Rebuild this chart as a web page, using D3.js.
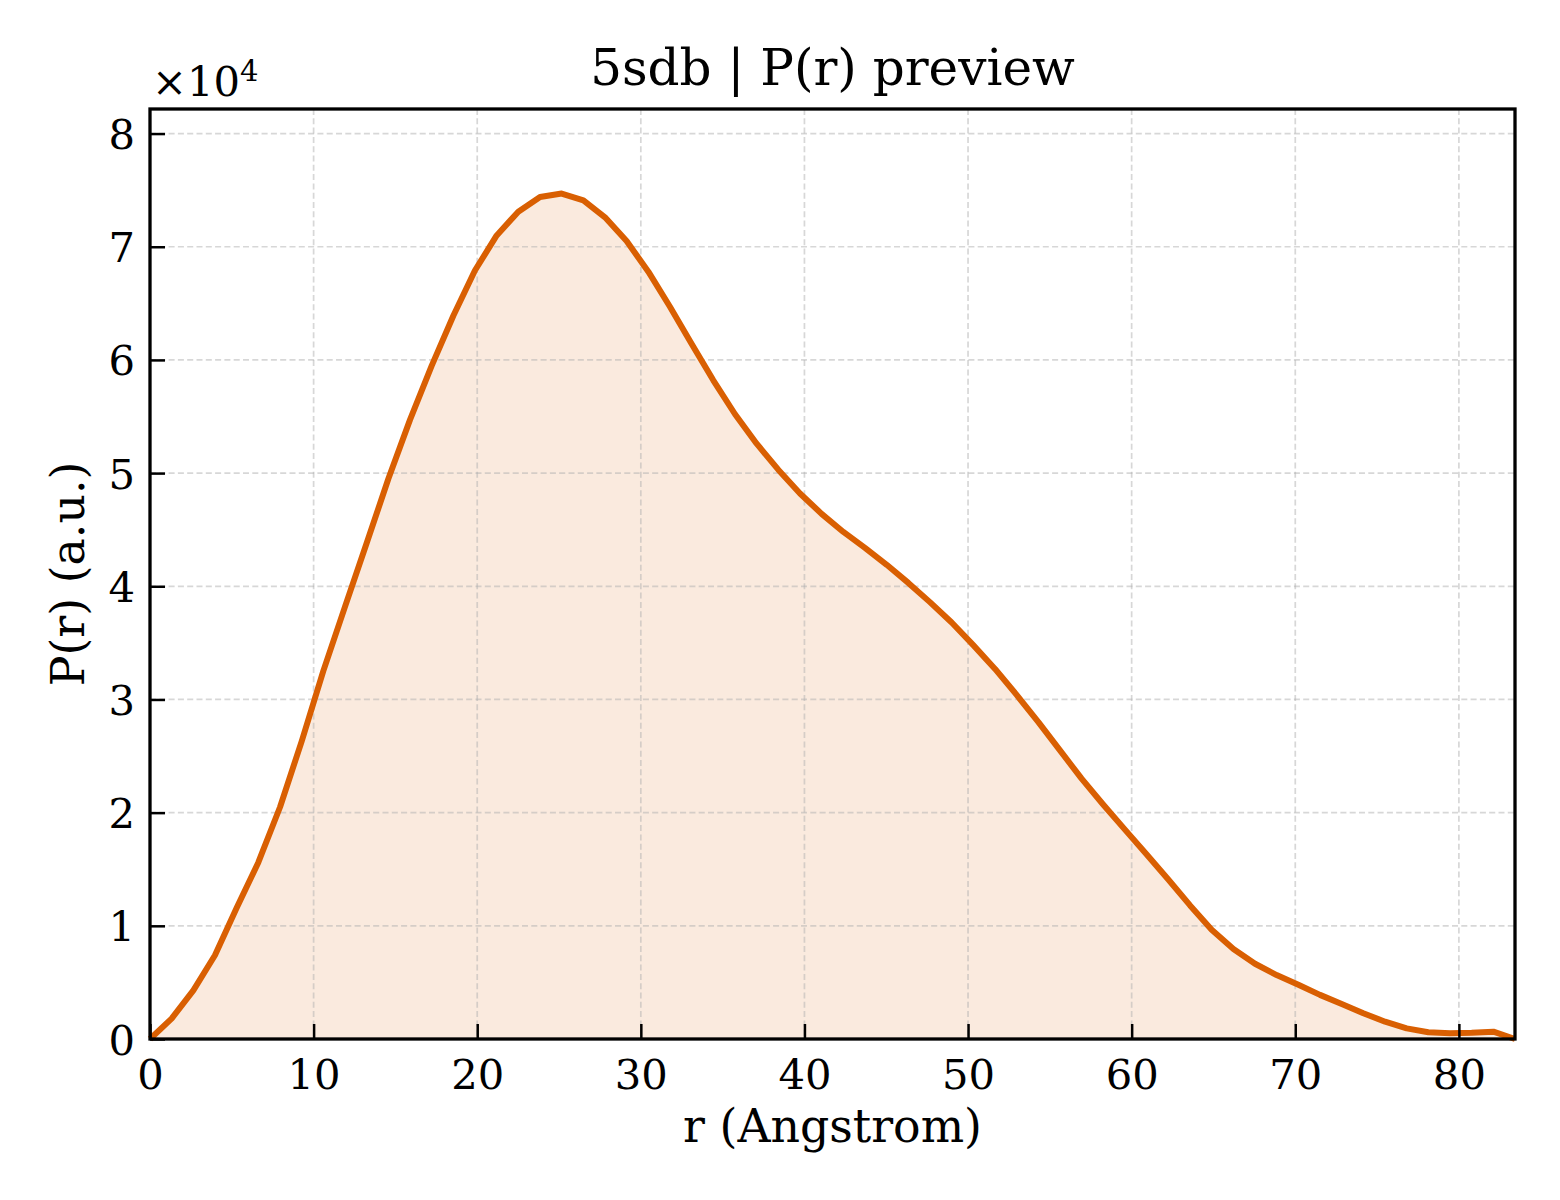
<!DOCTYPE html>
<html>
<head>
<meta charset="utf-8">
<script src="https://cdn.jsdelivr.net/npm/d3@7"></script>
<style>
  body { margin: 0; background: #ffffff; }
  text { font-family: "DejaVu Serif", serif; fill: #000; }
</style>
</head>
<body>
<div id="chart"></div>
<script>
// r grid (Angstrom) and P(r) in units of 1e4
var rValues = [0.00, 1.32, 2.65, 3.97, 5.30, 6.62, 7.95, 9.27, 10.59, 11.92,
  13.24, 14.57, 15.89, 17.22, 18.54, 19.86, 21.19, 22.51, 23.84, 25.16,
  26.49, 27.81, 29.13, 30.46, 31.78, 33.11, 34.43, 35.76, 37.08, 38.40,
  39.73, 41.05, 42.38, 43.70, 45.03, 46.35, 47.67, 49.00, 50.32, 51.65,
  52.97, 54.30, 55.62, 56.94, 58.27, 59.59, 60.92, 62.24, 63.57, 64.89,
  66.22, 67.54, 68.86, 70.19, 71.51, 72.84, 74.16, 75.49, 76.81, 78.13,
  79.46, 80.78, 82.11, 83.43];
var prValues = [0.00, 0.18, 0.43, 0.74, 1.16, 1.56, 2.05, 2.63, 3.25, 3.82,
  4.38, 4.95, 5.47, 5.95, 6.39, 6.79, 7.10, 7.31, 7.44, 7.47,
  7.41, 7.26, 7.05, 6.78, 6.47, 6.14, 5.82, 5.52, 5.26, 5.03,
  4.82, 4.64, 4.48, 4.34, 4.19, 4.03, 3.86, 3.68, 3.48, 3.27,
  3.04, 2.80, 2.55, 2.30, 2.07, 1.85, 1.63, 1.41, 1.18, 0.965,
  0.795, 0.665, 0.565, 0.48, 0.39, 0.31, 0.227, 0.153, 0.094, 0.059,
  0.05, 0.055, 0.065, 0.00];
var xTicks = [0, 10, 20, 30, 40, 50, 60, 70, 80];
var yTicks = [0, 1, 2, 3, 4, 5, 6, 7, 8];

var chartTitle = '5sdb | P(r) preview';
var xLabel = 'r (Angstrom)';
var yLabel = 'P(r) (a.u.)';

var data = rValues.map(function(r, i) { return {r: r, p: prValues[i]}; });

var width = 1560, height = 1200;
var margin = {left: 150, right: 45, top: 109, bottom: 161};
var lineColor = '#d95f02';

var svg = d3.select('#chart').append('svg')
  .attr('width', width)
  .attr('height', height);

svg.append('rect')
  .attr('width', width)
  .attr('height', height)
  .attr('fill', '#ffffff');

var x = d3.scaleLinear()
  .domain([0, d3.max(rValues)])
  .range([margin.left, width - margin.right]);

var y = d3.scaleLinear()
  .domain([0, d3.max(prValues) * 1.1])
  .range([height - margin.bottom, margin.top]);

var plotW = width - margin.left - margin.right;
var plotH = height - margin.top - margin.bottom;

// fill under curve
var area = d3.area()
  .x(function(d) { return x(d.r); })
  .y0(y(0))
  .y1(function(d) { return y(d.p); });

svg.append('path')
  .datum(data)
  .attr('d', area)
  .attr('fill', lineColor)
  .attr('fill-opacity', 0.13);

// dashed grid
var grid = svg.append('g').attr('class', 'grid');
grid.selectAll('.vgrid')
  .data(xTicks.filter(function(t) { return t > 0; }))
  .enter().append('line')
  .attr('x1', function(d) { return x(d); })
  .attr('x2', function(d) { return x(d); })
  .attr('y1', margin.top)
  .attr('y2', height - margin.bottom)
  .attr('stroke', '#b0b0b0')
  .attr('stroke-opacity', 0.5)
  .attr('stroke-width', 1.7)
  .attr('stroke-dasharray', '6,3.3');
grid.selectAll('.hgrid')
  .data(yTicks.filter(function(t) { return t > 0; }))
  .enter().append('line')
  .attr('x1', margin.left)
  .attr('x2', width - margin.right)
  .attr('y1', function(d) { return y(d); })
  .attr('y2', function(d) { return y(d); })
  .attr('stroke', '#b0b0b0')
  .attr('stroke-opacity', 0.5)
  .attr('stroke-width', 1.7)
  .attr('stroke-dasharray', '6,3.3');

// the curve
var line = d3.line()
  .x(function(d) { return x(d.r); })
  .y(function(d) { return y(d.p); });

svg.append('path')
  .datum(data)
  .attr('d', line)
  .attr('fill', 'none')
  .attr('stroke', lineColor)
  .attr('stroke-width', 6)
  .attr('stroke-linejoin', 'round')
  .attr('stroke-linecap', 'butt');

// axes, ticks pointing inward
var xAxis = d3.axisBottom(x)
  .tickValues(xTicks)
  .tickSizeInner(-15)
  .tickSizeOuter(0)
  .tickPadding(20)
  .tickFormat(d3.format('d'));

var yAxis = d3.axisLeft(y)
  .tickValues(yTicks)
  .tickSizeInner(-15)
  .tickSizeOuter(0)
  .tickPadding(15)
  .tickFormat(d3.format('d'));

var gx = svg.append('g')
  .attr('transform', 'translate(0,' + (height - margin.bottom) + ')')
  .call(xAxis);
var gy = svg.append('g')
  .attr('transform', 'translate(' + margin.left + ',0)')
  .call(yAxis);

[gx, gy].forEach(function(g) {
  g.select('.domain').remove();
  g.selectAll('.tick line').attr('stroke', '#000').attr('stroke-width', 2.5);
  g.selectAll('.tick text')
    .attr('font-family', '"DejaVu Serif", serif')
    .attr('font-size', 41.7)
    .attr('fill', '#000');
});
gx.selectAll('.tick text').attr('dy', '0.71em');
gy.selectAll('.tick text').attr('dy', '0.36em');

// frame
svg.append('rect')
  .attr('x', margin.left)
  .attr('y', margin.top)
  .attr('width', plotW)
  .attr('height', plotH)
  .attr('fill', 'none')
  .attr('stroke', '#000')
  .attr('stroke-width', 3.3);

// offset text x10^4
var offset = svg.append('text')
  .attr('x', margin.left + 2)
  .attr('y', 96)
  .attr('font-size', 41.7);
offset.append('tspan').text('×10');
offset.append('tspan')
  .attr('dy', -15)
  .attr('font-size', 29)
  .text('4');

// title
svg.append('text')
  .attr('x', margin.left + plotW / 2)
  .attr('y', 85)
  .attr('text-anchor', 'middle')
  .attr('font-size', 50)
  .text(chartTitle);

// axis labels
svg.append('text')
  .attr('x', margin.left + plotW / 2)
  .attr('y', 1142)
  .attr('text-anchor', 'middle')
  .attr('font-size', 45.8)
  .text(xLabel);

svg.append('text')
  .attr('transform', 'translate(84,' + (margin.top + plotH / 2) + ') rotate(-90)')
  .attr('text-anchor', 'middle')
  .attr('font-size', 45.8)
  .text(yLabel);
</script>
</body>
</html>
